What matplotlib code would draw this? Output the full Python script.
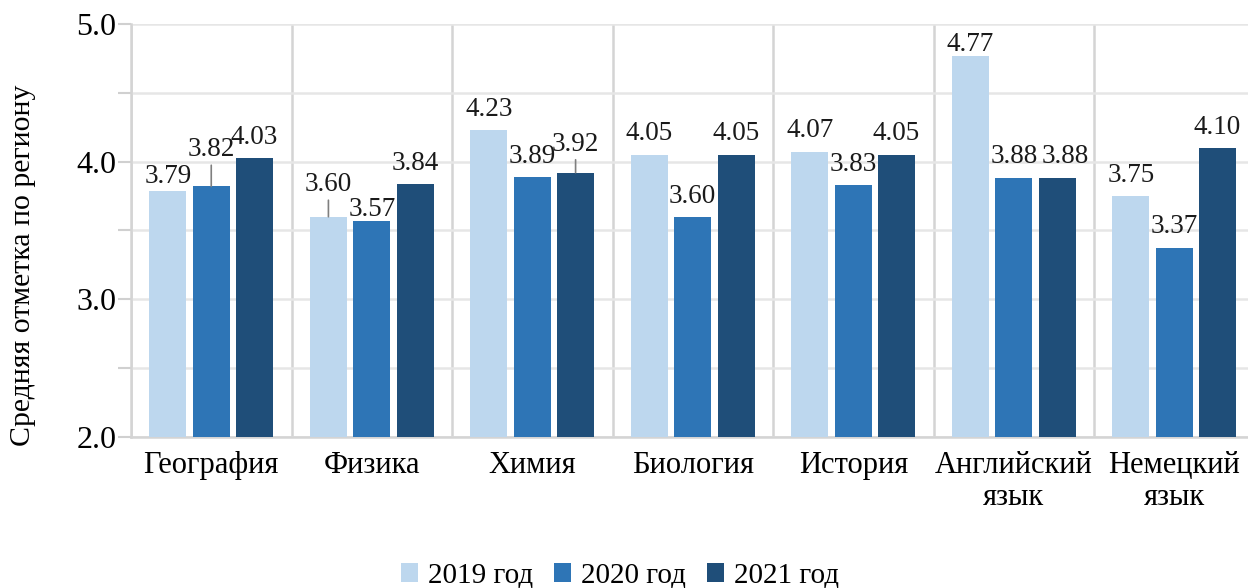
import matplotlib
matplotlib.use("Agg")
import matplotlib.pyplot as plt
import numpy as np

categories = ["География", "Физика", "Химия", "Биология", "История", "Английский\nязык", "Немецкий\nязык"]
series_names = ["2019 год", "2020 год", "2021 год"]
vals_2019 = [3.79, 3.60, 4.23, 4.05, 4.07, 4.77, 3.75]
vals_2020 = [3.82, 3.57, 3.89, 3.60, 3.83, 3.88, 3.37]
vals_2021 = [4.03, 3.84, 3.92, 4.05, 4.05, 3.88, 4.10]
label_texts_2019 = ["3.79", "3.60", "4.23", "4.05", "4.07", "4.77", "3.75"]
label_texts_2020 = ["3.82", "3.57", "3.89", "3.60", "3.83", "3.88", "3.37"]
label_texts_2021 = ["4.03", "3.84", "3.92", "4.05", "4.05", "3.88", "4.10"]

colors = ["#BDD7EE", "#2E75B6", "#1F4E79"]
# label baseline offsets above bar top (pixels), x shifts (pixels) and leader-line flags
offsets_px = [
    [7.3, 25.3, 14, 15, 15, 5, 14],
    [30, 5, 14.3, 14, 14, 15, 15],
    [13.3, 14, 21.7, 15, 15, 15, 14],
]
xshift_px = [
    [0, 0, 0, 0, 0, 0, 0],
    [0, 0, 0, 0, 0, 0, 0],
    [0, 0, 0, 0, 0, 8, 0],
]
leaders = [
    [False, True, False, False, False, False, False],
    [True, False, False, False, False, False, False],
    [False, False, True, False, False, False, False],
]

plt.rcParams['font.family'] = ['Liberation Serif', 'DejaVu Serif']
FS_LAB = 19.5
FS_X = 22
FS_Y = 23
FS_LEG = 21
FS_YL = 21.5

fig = plt.figure(figsize=(12.48, 5.88), dpi=100)
ax = fig.add_axes([131/1248, 1-437/588, (160.5*7)/1248, (437-24)/588])

x = np.arange(len(categories))
w = 0.23
step = 0.27
series = [vals_2019, vals_2020, vals_2021]
texts = [label_texts_2019, label_texts_2020, label_texts_2021]
for i, (vals, col, name) in enumerate(zip(series, colors, series_names)):
    xs = x + (i - 1) * step
    ax.bar(xs, np.array(vals) - 2.0, bottom=2.0, width=w, color=col, label=name, zorder=3)
    for j, (xx, v) in enumerate(zip(xs, vals)):
        off = offsets_px[i][j] * 0.72
        dx = xshift_px[i][j] * 0.72
        kw = {}
        if leaders[i][j]:
            kw['arrowprops'] = dict(arrowstyle='-', color='#7f7f7f', lw=1.2, shrinkA=0, shrinkB=0)
        ax.annotate(texts[i][j], xy=(xx, v), xytext=(dx, off), textcoords='offset points',
                    ha='center', va='baseline', fontsize=FS_LAB, color='#1a1a1a', zorder=5, **kw)

ax.set_xlim(-0.5, len(categories) - 0.5)
ax.set_ylim(2.0, 5.0)
ax.set_yticks([2.0, 3.0, 4.0, 5.0])
ax.set_yticklabels(["2.0", "3.0", "4.0", "5.0"], fontsize=FS_Y)
ax.set_yticks([2.5, 3.5, 4.5], minor=True)
ax.tick_params(axis='y', which='both', length=9.4, color='#d0d0d0', width=1.5, pad=1)
ax.set_xticks(x)
ax.set_xticklabels(categories, fontsize=FS_X, linespacing=1.15)
ax.tick_params(axis='x', length=0, pad=10)
ax.set_xticks(np.arange(-0.5, len(categories)), minor=True)
ax.tick_params(axis='x', which='minor', length=0)

ax.grid(axis='y', which='both', color='#e6e6e6', lw=1.8, zorder=0)
ax.grid(axis='x', which='minor', color='#d4d4d4', lw=1.8, zorder=0)
for s in ['top', 'right']:
    ax.spines[s].set_visible(False)
ax.spines['left'].set_color('#d4d4d4')
ax.spines['left'].set_linewidth(1.8)
ax.spines['bottom'].set_color('#d4d4d4')
ax.spines['bottom'].set_linewidth(1.8)

fig.text(23/1248, 1 - 265/588, "Средняя отметка по региону", rotation=90,
         ha='center', va='center', fontsize=FS_YL)

fig.legend(loc='center', bbox_to_anchor=(620/1248, 1 - 576/588), ncol=3, frameon=False,
           fontsize=FS_LEG, handlelength=0.6, handleheight=0.6, handletextpad=0.35,
           columnspacing=0.7, borderpad=0)

fig.savefig("out.png", dpi=100)
